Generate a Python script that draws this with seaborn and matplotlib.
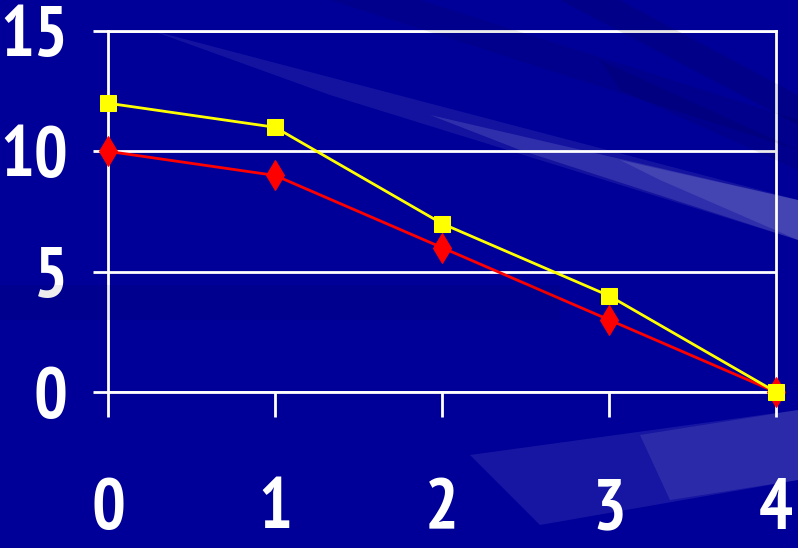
import matplotlib
matplotlib.use("Agg")
import matplotlib.pyplot as plt
from matplotlib import font_manager as fm
from matplotlib.patches import Polygon
import seaborn as sns
import pandas as pd

# chart data
x_vals = [0, 1, 2, 3, 4]
yellow_vals = [12, 11, 7, 4, 0]
red_vals = [10, 9, 6, 3, 0]
y_ticks = [0, 5, 10, 15]

BG = "#000099"
W, H = 798, 548


def is_bold(f):
    return f.weight in ("bold", "heavy", "black") or (isinstance(f.weight, int) and f.weight >= 700)


def pick_font():
    # prefer a narrow bold face (Arial Narrow like), then a condensed one
    fonts = fm.fontManager.ttflist
    for key, size in (("narrow", 51), ("condensed", 40)):
        for f in fonts:
            n = (f.name + " " + f.fname).lower()
            if key in n and is_bold(f):
                return fm.FontProperties(fname=f.fname), size
    return fm.FontProperties(family="Liberation Sans", weight="bold"), 38


def main():
    sns.set_theme(style="white")
    plt.rcParams["font.family"] = ["Liberation Sans", "DejaVu Sans"]

    fig = plt.figure(figsize=(W / 100, H / 100), dpi=100, facecolor=BG)

    # background streaks (pixel coords -> figure fraction)
    def streak(pts, color, alpha):
        p = Polygon([(x / W, 1 - y / H) for x, y in pts], closed=True,
                    transform=fig.transFigure, facecolor=color, edgecolor="none",
                    alpha=alpha, zorder=0)
        fig.patches.append(p)

    streak([(330, 0), (420, 0), (798, 120), (798, 150)], "black", 0.08)
    streak([(560, 0), (620, 0), (798, 95), (798, 125)], "black", 0.10)
    streak([(600, 60), (798, 150), (798, 170), (620, 90)], "black", 0.08)
    streak([(0, 285), (0, 320), (560, 320), (560, 285)], "black", 0.07)
    streak([(150, 30), (798, 200), (798, 240), (330, 95)], "white", 0.08)
    streak([(430, 115), (798, 200), (798, 240), (520, 150)], "white", 0.12)
    streak([(620, 160), (798, 200), (798, 240), (660, 180)], "white", 0.10)
    streak([(470, 455), (798, 410), (798, 480), (540, 525)], "white", 0.09)
    streak([(640, 435), (798, 410), (798, 480), (670, 500)], "white", 0.09)

    ax = fig.add_axes([108 / W, 1 - 392 / H, (776 - 108) / W, (392 - 31) / H])
    ax.set_facecolor("none")

    df = pd.DataFrame({"x": x_vals, "yellow": yellow_vals, "red": red_vals})

    sns.lineplot(data=df, x="x", y="red", ax=ax, color="#ff0000", linewidth=2,
                 marker="d", markersize=15, markeredgecolor="#ff0000",
                 clip_on=False, zorder=3)
    sns.lineplot(data=df, x="x", y="yellow", ax=ax, color="#ffff00", linewidth=2,
                 marker="s", markersize=11, markeredgecolor="#ffff00",
                 clip_on=False, zorder=4)

    ax.set_xlim(0, 4)
    ax.set_ylim(0, 15)
    ax.set_xticks(x_vals)
    ax.set_yticks(y_ticks)
    ax.set_xlabel("")
    ax.set_ylabel("")

    ax.grid(axis="y", color="white", linewidth=2)
    ax.set_axisbelow(True)
    for side in ["left", "right", "top", "bottom"]:
        ax.spines[side].set_visible(True)
        ax.spines[side].set_color("white")
        ax.spines[side].set_linewidth(2)

    fp, size = pick_font()
    ax.tick_params(axis="y", length=11, width=2, color="white", pad=18,
                   labelcolor="white", left=True)
    ax.tick_params(axis="x", length=18, width=2, color="white", pad=44,
                   labelcolor="white", bottom=True)
    for lab in ax.get_xticklabels() + ax.get_yticklabels():
        lab.set_fontproperties(fp)
        lab.set_fontsize(size)

    fig.savefig("out.png", dpi=100, facecolor=BG)


if __name__ == "__main__":
    main()
